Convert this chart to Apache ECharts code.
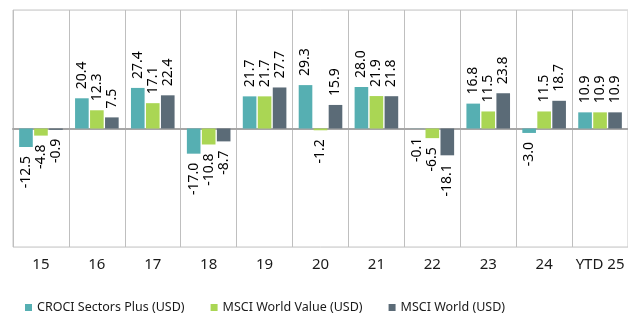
<!DOCTYPE html>
<html>
<head>
<meta charset="utf-8">
<script src="https://cdn.jsdelivr.net/npm/echarts@6/dist/echarts.min.js"></script>
<style>
  html, body { margin: 0; padding: 0; background: #fff; }
  #chart { width: 628px; height: 322px; }
</style>
</head>
<body>
<div id="chart"></div>
<script>
// Calendar-year returns (%), last column is year-to-date
const categories = ['15', '16', '17', '18', '19', '20', '21', '22', '23', '24', 'YTD 25'];
const seriesNames = ['CROCI Sectors Plus (USD)', 'MSCI World Value (USD)', 'MSCI World (USD)'];
const crociSectorsPlus = [-12.5, 20.4, 27.4, -17.0, 21.7, 29.3, 28.0, -0.1, 16.8, -3.0, 10.9];
const msciWorldValue   = [-4.8, 12.3, 17.1, -10.8, 21.7, -1.2, 21.9, -6.5, 11.5, 11.5, 10.9];
const msciWorld        = [-0.9, 7.5, 22.4, -8.7, 27.7, 15.9, 21.8, -18.1, 23.8, 18.7, 10.9];
const colors = ['#56afb2', '#aad654', '#5b6b77'];

const FONT = '"Noto Sans", sans-serif';

function toItems(values) {
  return values.map(v => ({
    value: v,
    label: v < 0
      ? { align: 'right', verticalAlign: 'middle' }
      : { align: 'left', verticalAlign: 'middle' }
  }));
}

const chart = echarts.init(document.getElementById('chart'), null, { renderer: 'canvas' });

const allValues = [crociSectorsPlus, msciWorldValue, msciWorld];

chart.setOption({
  animation: false,
  color: colors,
  grid: {
    left: 13, right: -1, top: 10, bottom: 75,
    show: true, borderColor: '#c6c6c6', borderWidth: 1
  },
  legend: {
    bottom: 3,
    left: 20,
    itemWidth: 7,
    itemHeight: 7,
    itemGap: 26,
    icon: 'rect',
    textStyle: { fontFamily: FONT, fontSize: 12.5, color: '#1a1a1a' },
    data: seriesNames
  },
  xAxis: {
    type: 'category',
    data: categories,
    boundaryGap: true,
    axisLine: { show: true, lineStyle: { color: '#a6a6a6', width: 2 } },
    axisTick: { show: false, interval: 0 },
    splitLine: { show: true, interval: 0, lineStyle: { color: '#bfbfbf', width: 1 } },
    axisLabel: { interval: 0, fontFamily: FONT, fontSize: 15, color: '#1a1a1a', margin: 10 }
  },
  yAxis: {
    type: 'value',
    min: -80, max: 80, interval: 80,
    axisLine: { show: false },
    axisTick: { show: false },
    axisLabel: { show: false },
    splitLine: { show: true, lineStyle: { color: '#dcdcdc', width: 1 } }
  },
  series: seriesNames.map((name, i) => ({
    name: name,
    type: 'bar',
    barCategoryGap: '22%',
    barGap: '10%',
    data: toItems(allValues[i]),
    label: {
      show: true,
      position: 'outside',
      rotate: 90,
      distance: 9,
      fontFamily: FONT,
      fontSize: 14,
      color: '#000',
      formatter: p => p.value.toFixed(1)
    }
  }))
});
</script>
</body>
</html>
